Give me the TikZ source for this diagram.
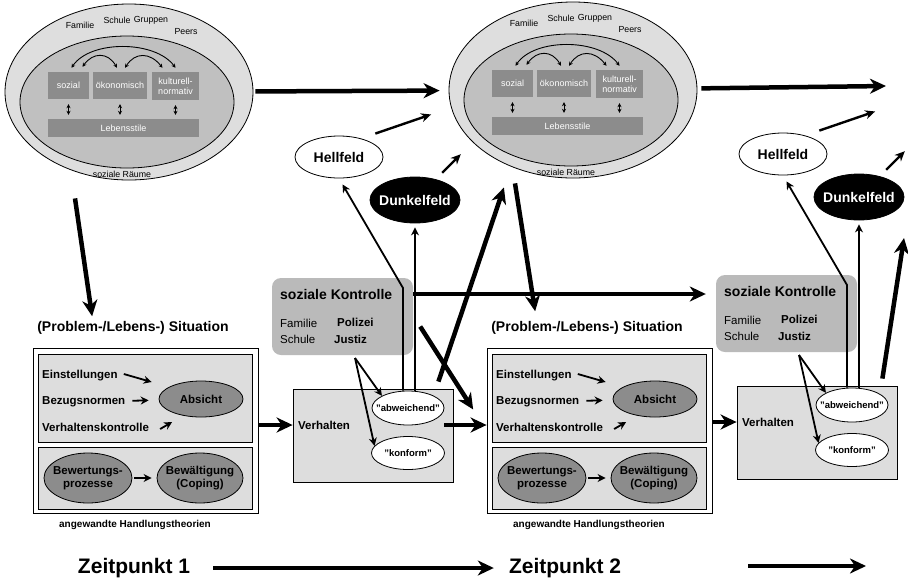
\documentclass[tikz,border=0pt]{standalone}
\usepackage{fontspec}
\setmainfont{Liberation Sans}
\usetikzlibrary{shapes.geometric,arrows.meta,calc}
\definecolor{ringgrey}{RGB}{222,222,222}
\definecolor{coregrey}{RGB}{192,192,192}
\definecolor{tilegrey}{RGB}{140,140,140}
\definecolor{ctrlgrey}{RGB}{186,186,186}
\definecolor{panelgrey}{RGB}{221,221,221}
\begin{document}
\begin{tikzpicture}[x=1pt,y=-1pt,
	ellring/.style={ellipse,draw,line width=0.8pt,inner sep=0pt},
	tile/.style={fill=tilegrey,text=white,inner sep=0pt,align=center,font=\fontsize{9}{10}\selectfont},
	ringtext/.style={inner sep=1pt,font=\fontsize{8.8}{10}\selectfont},
	headline/.style={inner sep=1pt,font=\fontsize{14}{16}\selectfont\bfseries},
	itemtext/.style={inner sep=1pt,font=\fontsize{11.5}{13}\selectfont\bfseries},
	normtext/.style={inner sep=1pt,font=\fontsize{11.5}{13}\selectfont},
	quotetext/.style={inner sep=0pt,font=\fontsize{9.5}{11}\selectfont\bfseries},
	oval/.style={ellipse,draw,line width=0.8pt,inner sep=0pt},
	panel/.style={draw,line width=0.8pt,inner sep=0pt},
	bigarrow/.style={line width=4.5pt,-{Stealth[length=16pt,width=15pt,inset=5pt]}},
	midarrow/.style={line width=2.4pt,-{Stealth[length=10pt,width=9pt]}},
	thinarrow/.style={line width=1.8pt,-{Stealth[length=8pt,width=8pt]}},
	arcarrow/.style={line width=0.9pt,{Stealth[length=4pt,width=4pt]}-{Stealth[length=4pt,width=4pt]}}]
	\clip (0,0) rectangle (908,582);
	% soziale Raeume
	\foreach \g/\dx/\dy in {A/0/0,B/444/-2}{
	\begin{scope}[shift={(\dx,\dy)}]
		\node (ring\g) [ellring,fill=ringgrey,minimum width=248pt,minimum height=176pt] at (129,92) {};
		\node (core\g) [ellring,fill=coregrey,minimum width=214pt,minimum height=132pt] at (127,102) {};
		\node (soz\g) [tile,minimum width=41pt,minimum height=27pt] at (68.5,85.5) {sozial};
		\node (oek\g) [tile,minimum width=54pt,minimum height=27pt] at (120,85.5) {ökonomisch};
		\node (kult\g) [tile,minimum width=47pt,minimum height=28pt] at (175.5,86) {kulturell-\\normativ};
		\node (leb\g) [tile,minimum width=151pt,minimum height=18pt] at (123.5,128) {Lebensstile};
		\node (fam\g) [ringtext] at (80,25) {Familie};
		\node (sch\g) [ringtext] at (117,20) {Schule};
		\node (grp\g) [ringtext] at (151,20) {Gruppen};
		\node (peer\g) [ringtext] at (186,32) {Peers};
		\node (raum\g) [ringtext] at (122,174) {soziale Räume};
		\foreach \t in {soz,oek,kult}
			\draw [arcarrow,shorten <=5pt,shorten >=4pt] (\t\g.south) -- (\t\g.south |- leb\g.north);
		\draw [arcarrow] ($(soz\g.north)+(3,-4)$) .. controls (90,40) and (155,40) .. ($(kult\g.north)+(0,-4)$);
		\draw [arcarrow] ($(soz\g.north)+(14,-5)$) .. controls (93,52) and (108,52) .. ($(oek\g.north)+(-3,-4)$);
		\draw [arcarrow] ($(oek\g.north)+(5,-4)$) .. controls (135,52) and (150,52) .. ($(kult\g.north)+(-13,-4)$);
	\end{scope}}
	% (Problem-/Lebens-) Situation
	\foreach \g/\dx in {A/0,B/454}{
	\begin{scope}[shift={(\dx,0)}]
		\node (sit\g) [panel,fill=white,minimum width=225pt,minimum height=165pt] at (145.5,430.5) {};
		\node (want\g) [panel,fill=panelgrey,minimum width=214pt,minimum height=88pt] at (145,398) {};
		\node (cope\g) [panel,fill=panelgrey,minimum width=214pt,minimum height=62pt] at (145,478) {};
		\node (sitlabel\g) [headline] at (133,328) {(Problem-/Lebens-) Situation};
		\node (theo\g) [inner sep=1pt,font=\fontsize{10}{12}\selectfont\bfseries] at (135,525) {angewandte Handlungstheorien};
		\node (einst\g) [itemtext,anchor=west] at (41,376) {Einstellungen};
		\node (bezug\g) [itemtext,anchor=west] at (41,402) {Bezugsnormen};
		\node (vkon\g) [itemtext,anchor=west] at (41,427) {Verhaltenskontrolle};
		\node (absicht\g) [oval,fill=tilegrey,minimum width=84pt,minimum height=36pt,
			label={[itemtext]center:Absicht}] at (201,399) {};
		\node (bewert\g) [oval,fill=tilegrey,minimum width=88pt,minimum height=50pt,
			label={[itemtext,align=center]center:{Bewertungs-\\prozesse}}] at (88,478) {};
		\node (bewaelt\g) [oval,fill=tilegrey,minimum width=86pt,minimum height=50pt,
			label={[itemtext,align=center]center:{Bewältigung\\(Coping)}}] at (200,478) {};
		\draw [thinarrow] ($(einst\g.east)+(5,-2)$) -- ($(absicht\g.west)+(-7,-17)$);
		\draw [thinarrow,shorten <=6pt,shorten >=10pt] (bezug\g) -- (absicht\g);
		\draw [thinarrow] ($(vkon\g.east)+(10,2)$) -- ($(vkon\g.east)+(22,-5)$);
		\draw [thinarrow,shorten <=2pt,shorten >=5pt] (bewert\g) -- (bewaelt\g);
	\end{scope}}
	% soziale Kontrolle, Verhalten, Hell-/Dunkelfeld
	\foreach \g/\dx/\dy in {A/0/0,B/444/-3}{
	\begin{scope}[shift={(\dx,\dy)}]
		\node (hell\g) [oval,fill=white,minimum width=88pt,minimum height=42pt,
			label={[headline]center:Hellfeld}] at (339,157) {};
		\node (dunkel\g) [oval,fill=black,minimum width=90pt,minimum height=46pt,
			label={[headline,text=white]center:Dunkelfeld}] at (415,200) {};
		\node (kontr\g) [fill=ctrlgrey,rounded corners=9pt,minimum width=141pt,minimum height=77pt] at (342.5,316.5) {};
		\node (ktitle\g) [headline,anchor=west] at (279,294) {soziale Kontrolle};
		\node (kfam\g) [normtext,anchor=west] at (279,323) {Familie};
		\node (kpol\g) [itemtext,anchor=west] at (336,322) {Polizei};
		\node (ksch\g) [normtext,anchor=west] at (279,339) {Schule};
		\node (kjus\g) [itemtext,anchor=west] at (333,339) {Justiz};
		\node (verh\g) [panel,fill=panelgrey,minimum width=160pt,minimum height=93pt] at (373,435.5) {};
		\node (vlabel\g) [itemtext,anchor=west] at (297,425) {Verhalten};
		\node (abw\g) [oval,fill=white,minimum width=72pt,minimum height=34pt,
			label={[quotetext]center:{"abweichend"}}] at (408,408) {};
		\node (konf\g) [oval,fill=white,minimum width=73pt,minimum height=33pt,
			label={[quotetext]center:{"konform"}}] at (408,453) {};
		\coordinate (fork\g) at (355,358);
		\coordinate (bend\g) at (403,288);
		\draw [thinarrow] (fork\g) -- (abw\g.155);
		\draw [thinarrow] (fork\g) -- (konf\g.168);
		\draw [thinarrow,shorten >=7pt] (abw\g.north -| bend\g) -- (bend\g) -- (hell\g.south);
		\draw [thinarrow,shorten >=4pt] (abw\g.north -| dunkel\g.south) -- (dunkel\g.south);
		\draw [midarrow,shorten <=15pt] (hell\g.40) -- ++(70,-24);
		\draw [midarrow,shorten <=9pt] (dunkel\g.45) -- ++(25,-25);
	\end{scope}}
	% Uebergaenge
	\coordinate (ringexit) at (886,86);
	\coordinate (upexit) at (904,238);
	\draw [bigarrow,shorten <=2pt,shorten >=9pt] (ringA) -- (ringB);
	\draw [bigarrow,shorten <=4pt] (ringB) -- (ringexit);
	\draw [bigarrow] ($(ringA.south)+(-54,18)$) -- ($(sitlabelA.north west)+(56,-4)$);
	\draw [bigarrow] ($(ringB.south)+(-58,5)$) -- ($(sitlabelB.north west)+(45,-9)$);
	\draw [bigarrow] (sitA.east |- vlabelA) -- (verhA.west |- vlabelA);
	\draw [bigarrow] (abwA.east |- vlabelA) -- (sitB.west |- vlabelA);
	\draw [bigarrow] (sitB.east |- vlabelB) -- (verhB.west |- vlabelB);
	\draw [bigarrow,shorten >=10pt] (kontrA.east |- ktitleA) -- (kontrB.west |- ktitleA);
	\draw [bigarrow,shorten >=25pt] ($(kontrA.east)+(7,10)$) -- (sitB.west);
	\draw [bigarrow,shorten >=22pt] ($(verhA.north east)+(-15,-7)$) -- (ringB.231);
	\draw [bigarrow] ($(verhB.north east)+(-15,-7)$) -- (upexit);
	% Zeitachse
	\node (zp1) [inner sep=3pt,font=\fontsize{21}{24}\selectfont\bfseries] at (134,568) {Zeitpunkt 1};
	\node (zp2) [inner sep=3pt,font=\fontsize{21}{24}\selectfont\bfseries] at (565,568) {Zeitpunkt 2};
	\coordinate (zpfrom) at (748,566);
	\coordinate (zpto) at (866,566);
	\draw [bigarrow,shorten <=20pt,shorten >=12pt] (zp1) -- (zp2);
	\draw [bigarrow] (zpfrom) -- (zpto);
\end{tikzpicture}
\end{document}
